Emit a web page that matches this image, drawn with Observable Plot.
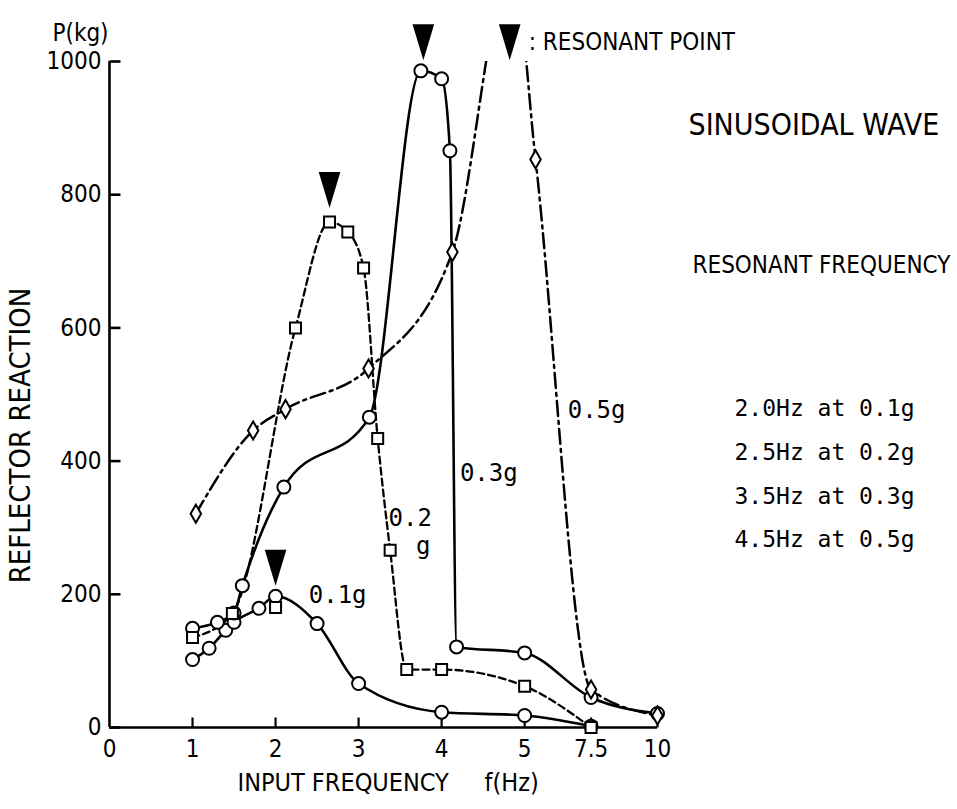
<!DOCTYPE html>
<html>
<head>
<meta charset="utf-8">
<script src="https://cdn.jsdelivr.net/npm/d3@7"></script>
<script src="https://cdn.jsdelivr.net/npm/@observablehq/plot@0.6"></script>
<style>
  html, body { margin: 0; padding: 0; background: #fff; }
  #chart { width: 957px; height: 809px; }
</style>
</head>
<body>
<div id="chart"></div>
<script>
// ---------- data ----------
const xTicks = [0, 1, 2, 3, 4, 5, 7.5, 10];
const yTicks = [0, 200, 400, 600, 800, 1000];

// 0.1g (circles, solid)
const f01 = [1.0, 1.2, 1.4, 1.5, 1.8, 2.0, 2.5, 3.0, 4.0, 5.0, 7.5];
const p01 = [102, 119, 146, 158, 179, 197, 156, 66, 23, 18, 2];

// 0.2g (squares, dashed)
const f02 = [1.0, 1.48, 2.24, 2.65, 2.87, 3.06, 3.23, 3.38, 3.58, 4.0, 5.0, 7.5];
const p02 = [135, 171, 600, 759, 744, 690, 434, 266, 87, 87, 62, 0];
const f02extra = [2.0];
const p02extra = [180];

// 0.3g (circles, solid)
const f03 = [1.0, 1.3, 1.5, 1.6, 2.1, 3.13, 3.75, 4.0, 4.1, 4.18, 5.0, 7.5, 10];
const p03 = [149, 158, 172, 213, 361, 466, 986, 974, 866, 121, 112, 45, 21];

// 0.5g (diamonds, dash-dot) – peak runs off the top of the chart
const f05 = [1.04, 1.73, 2.12, 3.12, 4.13, 4.85, 5.41, 7.5, 10];
const p05 = [321, 446, 478, 539, 714, 1150, 853, 57, 18];

// resonant points (triangles)
const fRes = [2.0, 2.65, 3.78, 4.82];
const pRes = [240, 807, 1029, 1029];

// resonant frequency table
const resFreq = ["2.0", "2.5", "3.5", "4.5"];
const resAccel = ["0.1g", "0.2g", "0.3g", "0.5g"];

// curve labels
const curveLabels = ["0.1g", "0.2", "g", "0.3g", "0.5g"];
const curveLabelF = [2.4, 3.36, 3.69, 4.22, 6.62];
const curveLabelP = [198, 314, 272, 382, 476];

// ---------- helpers ----------
// broken x axis: 0–5 Hz linear, then 5–10 Hz compressed
const g = f => (f <= 5 ? f : 5 + (f - 5) * 0.32);
const zip = (fs, ps) => fs.map((f, i) => ({f, p: ps[i]}));
const d01 = zip(f01, p01), d02 = zip(f02, p02), d03 = zip(f03, p03), d05 = zip(f05, p05);
const d02x = zip(f02extra, p02extra);
const dRes = zip(fRes, pRes);
const labels = curveLabels.map((t, i) => ({t, f: curveLabelF[i], p: curveLabelP[i]}));
const labelOf = new Map(xTicks.map(t => [g(t), String(t)]));

const sans = "'DejaVu Sans Condensed', 'DejaVu Sans', sans-serif";
const mono = "'DejaVu Sans Mono', monospace";

// custom symbols
const downTriangle = {draw(ctx, size) {
  const r = Math.sqrt(size / Math.PI);
  ctx.moveTo(-0.6 * r, -r); ctx.lineTo(0.6 * r, -r); ctx.lineTo(0, r); ctx.closePath();
}};
const tickRight = {draw(ctx, size) {
  const r = Math.sqrt(size / Math.PI);
  ctx.moveTo(0, 0); ctx.lineTo(r, 0);
}};
const tickUp = {draw(ctx, size) {
  const r = Math.sqrt(size / Math.PI);
  ctx.moveTo(0, 0); ctx.lineTo(0, -r);
}};

const X = d => g(d.f);
const lineBase = {x: X, y: "p", curve: "monotone-x", stroke: "black"};
const dotBase = {x: X, y: "p", fill: "white", stroke: "black", strokeWidth: 2};

const chart = Plot.plot({
  width: 957,
  height: 809,
  marginLeft: 109,
  marginRight: 300,
  marginTop: 61,
  marginBottom: 82,
  x: {domain: [0, g(10)], axis: null, label: null},
  y: {domain: [0, 1000], axis: null, label: null},
  style: {fontFamily: sans, fontSize: "24px", color: "black", background: "white"},
  marks: [
    // axes
    Plot.ruleY([0], {stroke: "black", strokeWidth: 2.6}),
    Plot.ruleX([0], {stroke: "black", strokeWidth: 2.6}),
    Plot.dot(yTicks, {x: 0, y: d => d, symbol: tickRight, r: 11, stroke: "black", fill: "none", strokeWidth: 2.6}),
    Plot.dot(xTicks.slice(1), {x: g, y: 0, symbol: tickUp, r: 10, stroke: "black", fill: "none", strokeWidth: 2.2}),
    Plot.axisY(yTicks, {label: null, tickSize: 0, tickPadding: 8, fontSize: 24, fontFamily: sans, tickFormat: d => String(d)}),
    Plot.axisX(xTicks.map(g), {label: null, tickSize: 0, tickPadding: 12, fontSize: 24, fontFamily: sans, tickFormat: v => labelOf.get(v)}),

    // curves
    Plot.line(d01, {...lineBase, strokeWidth: 2.6}),
    Plot.line(d02, {...lineBase, strokeWidth: 2.3, strokeDasharray: "7,4"}),
    Plot.line(d03, {...lineBase, strokeWidth: 2.6}),
    Plot.line(d05, {...lineBase, strokeWidth: 2.5, strokeDasharray: "15,5,3,5", clip: true}),

    // markers
    Plot.dot(d01, {...dotBase, symbol: "circle", r: 6.5}),
    Plot.dot(d03, {...dotBase, symbol: "circle", r: 6.5}),
    Plot.dot(d02, {...dotBase, symbol: "square", r: 6.2}),
    Plot.dot(d02x, {...dotBase, symbol: "square", r: 6.2}),
    Plot.dot(d05.filter(d => d.p <= 1000), {...dotBase, symbol: "diamond", r: 5.5}),

    // resonant points
    Plot.dot(dRes, {x: X, y: "p", symbol: downTriangle, r: 18, fill: "black", stroke: "none"}),
    Plot.text(dRes.slice(-1), {x: X, y: "p", text: () => ": RESONANT POINT", dx: 19, textAnchor: "start", fontSize: 24, fontFamily: sans}),

    // curve labels
    Plot.text(labels, {x: X, y: "p", text: "t", textAnchor: "start", fontSize: 24, fontFamily: mono}),

    // axis titles
    Plot.text(["P(kg)"], {text: d => d, frameAnchor: "top-left", dx: -29, dy: -38, textAnchor: "middle", fontSize: 24, fontFamily: sans}),
    Plot.text(["REFLECTOR REACTION"], {text: d => d, frameAnchor: "left", dx: -89, dy: 41, rotate: -90, textAnchor: "middle", fontSize: 29, fontFamily: sans}),
    Plot.text(["INPUT FREQUENCY\u00a0\u00a0\u00a0\u00a0\u00a0f(Hz)"], {text: d => d, frameAnchor: "bottom-left", dx: 128, dy: 63, textAnchor: "start", fontSize: 25, fontFamily: sans}),

    // right-hand annotations
    Plot.text(["SINUSOIDAL WAVE"], {text: d => d, frameAnchor: "top-right", dx: 31, dy: 52, textAnchor: "start", fontSize: 30, fontFamily: sans}),
    Plot.text(["RESONANT FREQUENCY"], {text: d => d, frameAnchor: "top-right", dx: 35, dy: 194, textAnchor: "start", fontSize: 24, fontFamily: sans}),
    Plot.text([resFreq.map((f, i) => `${f}Hz at ${resAccel[i]}`).join("\n")], {text: d => d, frameAnchor: "top-right", dx: 77, dy: 323, textAnchor: "start", lineHeight: 1.91, fontSize: 23, fontFamily: mono, fill: "black"})
  ]
});
document.getElementById("chart").appendChild(chart);
</script>
</body>
</html>
